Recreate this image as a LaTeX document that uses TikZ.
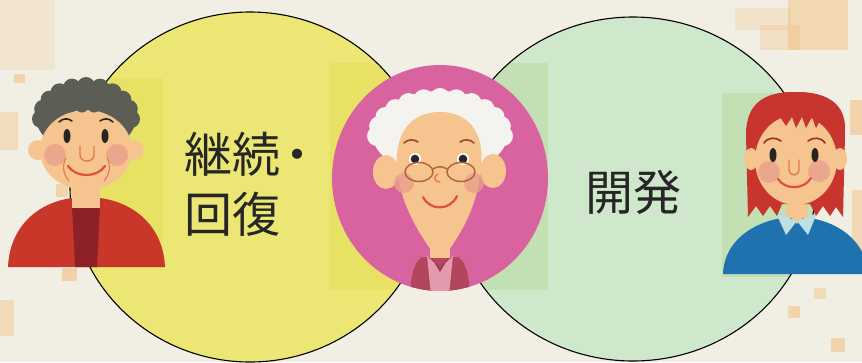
\documentclass[tikz,border=0pt]{standalone}
\usepackage{fontspec}
\newfontfamily\jp{Noto Sans CJK JP}
\usetikzlibrary{calc}

\definecolor{paper}{HTML}{F1EEE3}
\definecolor{peach}{HTML}{F2B56A}
\definecolor{sun}{HTML}{ECE774}
\definecolor{sundeep}{HTML}{E8E264}
\definecolor{mint}{HTML}{CFE8CB}
\definecolor{mintdeep}{HTML}{C3DFB4}
\definecolor{rose}{HTML}{D9639F}
\definecolor{skin}{HTML}{F5C48F}
\definecolor{blush}{HTML}{E9A08E}
\definecolor{mouth}{HTML}{E2503C}
\definecolor{nosec}{HTML}{E8784C}
\definecolor{eyec}{HTML}{2A2420}
\definecolor{hairgray}{HTML}{5C5E55}
\definecolor{hairwhite}{HTML}{F5F3EF}
\definecolor{cardigan}{HTML}{C9372B}
\definecolor{shirtdark}{HTML}{8D2127}
\definecolor{plum}{HTML}{B3465F}
\definecolor{plumlight}{HTML}{E39AAE}
\definecolor{rimc}{HTML}{B5643A}
\definecolor{browc}{HTML}{9A4A2A}
\definecolor{redhair}{HTML}{C8352F}
\definecolor{sweater}{HTML}{1F72AE}
\definecolor{collarc}{HTML}{BCE0E2}
\definecolor{ink}{HTML}{262626}

\tikzset{
  speck/.style={fill=peach, opacity=#1},
  speck/.default=0.45,
  outline/.style={draw=black, line width=1.1pt},
  jptext/.style={font=\jp\fontsize{48}{48}\selectfont, text=ink, inner sep=0pt},
  eye/.style={fill=eyec},
  brow/.style={draw=browc, line width=1.6pt, line cap=round},
  smile/.style={draw=mouth, line width=2.2pt, line cap=round},
  nose/.style={draw=nosec, line width=1.4pt, line cap=round},
  cheek/.style={fill=blush, opacity=0.8},
}

\begin{document}
\begin{tikzpicture}[x=1pt,y=-1pt]
\useasboundingbox (0,0) rectangle (862,362);
\clip (0,0) rectangle (862,362);

% paper and scattered peach squares
\fill[paper] (0,0) rectangle (862,362);
\fill[speck=0.15] (0,0) rectangle (55,70);
\fill[speck=0.3] (0,112) rectangle (18,150);
\fill[speck=0.45] (14,74) rectangle (25,83);
\fill[speck=0.35] (0,300) rectangle (14,336);
\fill[speck=0.45] (56,184) rectangle (68,197);
\fill[speck=0.5] (62,268) rectangle (77,281);
\fill[speck=0.2] (735,8) rectangle (790,30);
\fill[speck=0.4] (788,0) rectangle (848,50);
\fill[speck=0.25] (760,25) rectangle (800,50);
\fill[speck=0.45] (850,100) rectangle (862,135);
\fill[speck=0.4] (852,190) rectangle (862,250);
\fill[speck=0.45] (788,306) rectangle (800,318);
\fill[speck=0.35] (814,288) rectangle (826,299);
\fill[speck=0.45] (831,338) rectangle (845,352);

% the two large circles
\fill[sun] (250,187) ellipse (180 and 175);
\fill[mint] (633,189) ellipse (182 and 172);
\begin{scope}
  \clip (250,187) ellipse (180 and 175);
  \fill[sundeep] (0,78) rectangle (163,268);
  \fill[sundeep] (330,63) rectangle (548,290);
\end{scope}
\begin{scope}
  \clip (633,189) ellipse (182 and 172);
  \fill[mintdeep] (330,63) rectangle (548,290);
  \fill[mintdeep] (722,93) rectangle (870,277);
\end{scope}
\draw[outline] (250,187) ellipse (180 and 175);
\draw[outline] (633,189) ellipse (182 and 172);

% labels
\node[jptext, anchor=base west] (contA) at (184,172) {継続\kern-7pt・};
\node[jptext, anchor=base west] (contB) at (184,232) {回復};
\node[jptext, anchor=base] (devel) at (633,210) {開発};

% ---------- left grandmother ----------
\fill[cardigan] (8,267) .. controls (10,222) and (44,197) .. (86,197)
  .. controls (128,197) and (163,222) .. (165,267) -- cycle;
\fill[shirtdark] (72,207) -- (100,207) -- (97,267) -- (75,267) -- cycle;
\fill[skin] (72,180) rectangle (100,208);
\fill[hairgray] (86,117) ellipse (50 and 36);
\foreach \a in {0,18,...,180}
  \fill[hairgray] ({86+45*cos(\a)},{119-33*sin(\a)}) circle (9);
\fill[skin] (38,150) circle (10);
\fill[skin] (134,150) circle (10);
\fill[skin] (86,150) ellipse (46 and 40);
\foreach \x in {58,70,...,118}
  \fill[hairgray] (\x,106) circle (6.5);
\fill[cheek] (55,155) circle (11);
\fill[cheek] (117,155) circle (11);
\fill[eye] (67,136) ellipse (3.5 and 7);
\fill[eye] (105,136) ellipse (3.5 and 7);
\draw[brow, draw=eyec] (59,122) .. controls (63,118) and (68,118) .. (72,121);
\draw[brow, draw=eyec] (100,121) .. controls (104,118) and (109,118) .. (113,122);
\draw[nose] (80,146) -- (80,155) .. controls (80,163) and (94,163) .. (94,155) -- (94,146);
\draw[smile] (68,166) .. controls (76,178) and (97,178) .. (105,166);
\draw[nose, line width=1.1pt] (66,158) .. controls (62,165) and (63,174) .. (69,181);
\draw[nose, line width=1.1pt] (107,158) .. controls (111,165) and (110,174) .. (104,181);

% ---------- grandmother in the pink disc ----------
\fill[rose] (440,178) ellipse (108 and 113);
\begin{scope}
  \clip (440,178) ellipse (108 and 113);
  \fill[plum] (410,295) .. controls (411,275) and (414,262) .. (422,257)
    -- (458,257) .. controls (466,262) and (469,275) .. (470,295) -- cycle;
  \fill[plumlight] (427,256) -- (440,268) -- (453,256) -- (449,295) -- (431,295) -- cycle;
  \fill[plum!85!black] (431,258) -- (440,268) -- (449,258) -- (446,262) -- (440,272) -- (434,262) -- cycle;
\end{scope}
\fill[skin] (430,225) rectangle (450,258);
\fill[hairwhite] (440,133) ellipse (68 and 42);
\foreach \a in {0,15,...,180}
  \fill[hairwhite] ({440+63*cos(\a)},{136-38*sin(\a)}) circle (10);
\fill[skin] (386,172) ellipse (13 and 17);
\fill[skin] (493,171) ellipse (13 and 17);
\fill[skin] (440,112) .. controls (474,112) and (484,140) .. (481,165)
  .. controls (479,195) and (470,220) .. (449,250) -- (431,250)
  .. controls (410,220) and (399,195) .. (397,165)
  .. controls (395,140) and (406,112) .. (440,112) -- cycle;
\fill[cheek] (404,183) circle (10);
\fill[cheek] (474,183) circle (10);
\draw[brow] (404,143) .. controls (408,139) and (414,139) .. (418,142);
\draw[brow] (460,142) .. controls (464,139) and (470,139) .. (474,143);
\fill[white] (415,159) circle (6);
\fill[white] (463,159) circle (6);
\fill[eye] (415,159) circle (4.3);
\fill[eye] (463,159) circle (4.3);
\draw[rimc, line width=1.5pt] (419,172) ellipse (14 and 9.5);
\draw[rimc, line width=1.5pt] (461,172) ellipse (14 and 9.5);
\draw[rimc, line width=1.5pt] (433,169) .. controls (438,166) and (442,166) .. (447,169);
\draw[nose] (438,174) .. controls (433,176) and (434,182) .. (440,182);
\draw[smile] (423,197) .. controls (430,211) and (450,211) .. (457,196);

% ---------- young woman ----------
\fill[sweater] (723,274) .. controls (724,238) and (760,217) .. (796,217)
  .. controls (832,217) and (866,238) .. (868,274) -- cycle;
\fill[skin] (786,195) rectangle (808,218);
\fill[skin] (786,212) -- (808,212) -- (797,224) -- cycle;
\fill[collarc] (776,213) -- (797,221) -- (786,235) -- cycle;
\fill[collarc] (797,221) -- (817,213) -- (808,235) -- cycle;
\fill[redhair] (748,217) -- (746,135) .. controls (746,100) and (768,92) .. (795,92)
  .. controls (822,92) and (845,100) .. (845,135) -- (843,217)
  -- (836,207) -- (830,216) -- (823,206) -- (816,216) -- (810,204)
  -- (782,204) -- (777,216) -- (770,206) -- (763,216) -- (756,206) -- cycle;
\fill[skin] (751,159) ellipse (7 and 11);
\fill[skin] (840,159) ellipse (7 and 11);
\fill[skin] (796,160) ellipse (41 and 45);
\fill[redhair] (749,150) -- (748,122) .. controls (752,99) and (772,92) .. (796,92)
  .. controls (822,92) and (843,100) .. (845,125) -- (844,150)
  -- (838,134) -- (832,121) -- (826,129) -- (822,117) -- (816,128)
  -- (812,117) -- (806,128) -- (802,117) -- (796,128) -- (792,117)
  -- (786,126) -- (780,117) -- (770,119) -- (760,126) -- (754,135) -- cycle;
\fill[cheek] (769,172) circle (11);
\fill[cheek] (819,171) circle (11);
\draw[brow, draw=redhair!80!black] (764,143) .. controls (768,137) and (776,137) .. (781,141);
\draw[brow, draw=redhair!80!black] (808,141) .. controls (813,137) and (821,137) .. (825,143);
\fill[eye] (773,155) ellipse (3.5 and 7);
\fill[eye] (815,155) ellipse (3.5 and 7);
\draw[nose] (789,160) -- (789,169) .. controls (789,177) and (799,177) .. (799,169) -- (799,160);
\draw[smile] (778,179) .. controls (785,190) and (804,190) .. (811,178);
\end{tikzpicture}
\end{document}
